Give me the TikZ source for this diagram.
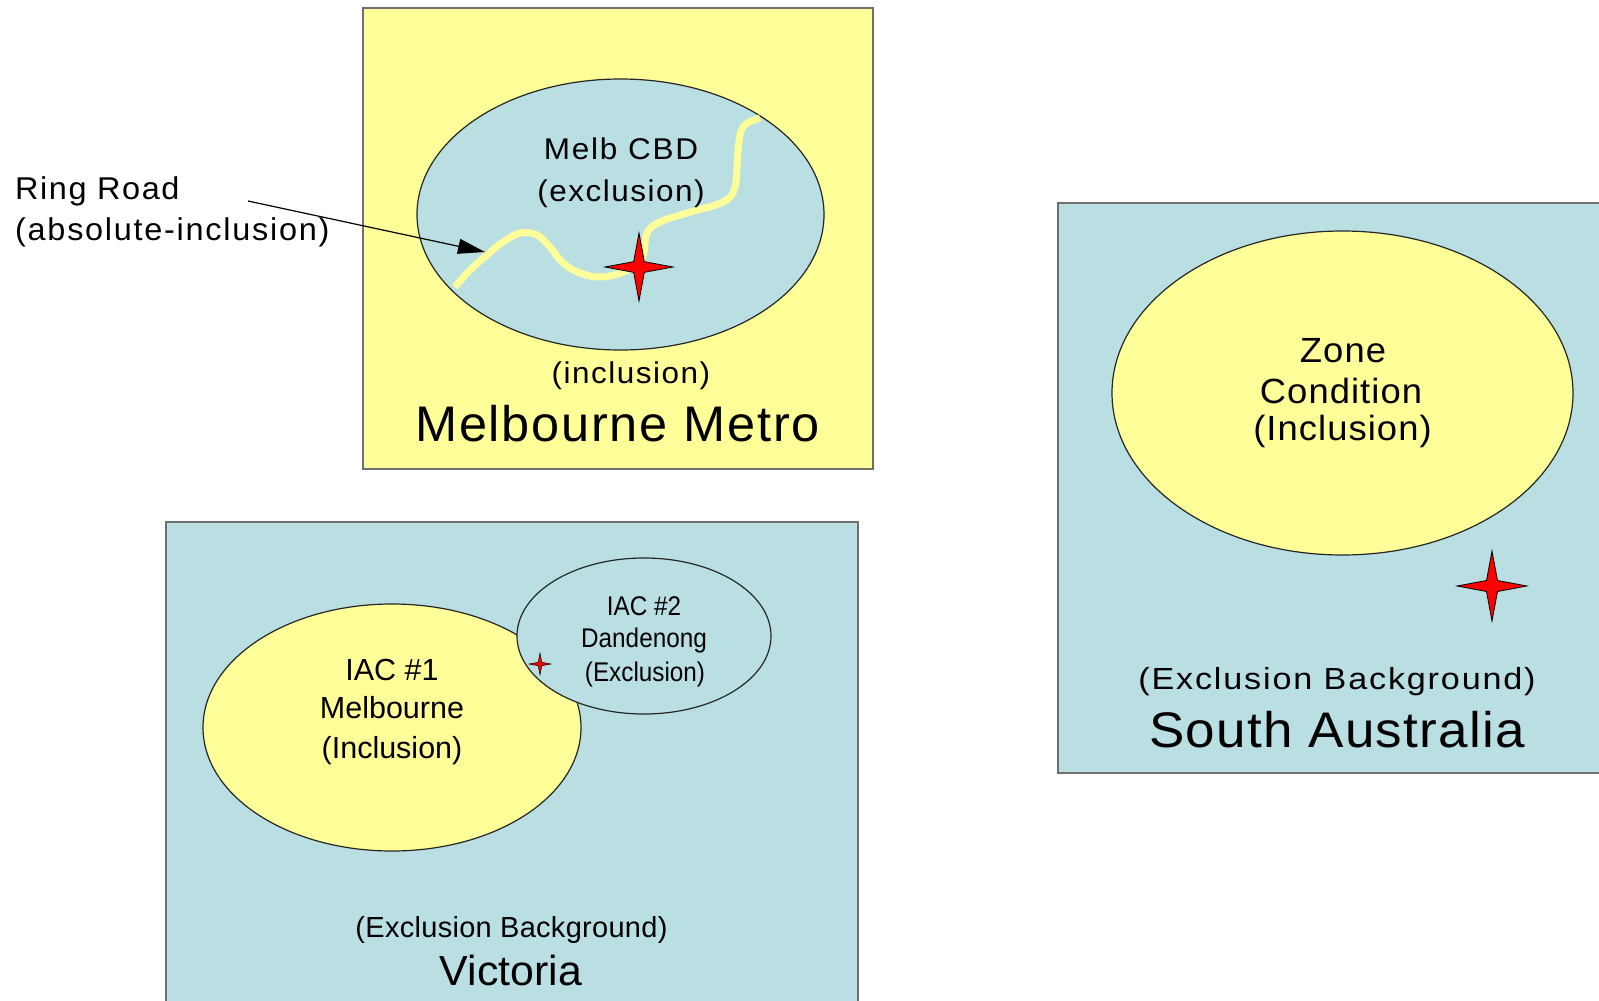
\documentclass[tikz,border=0pt]{standalone}
\usepackage{fontspec}
\setmainfont{Liberation Sans}
\usetikzlibrary{shapes.geometric,arrows.meta,positioning}

\definecolor{zoneyellow}{HTML}{FFFF99}
\definecolor{zoneblue}{HTML}{B9DFE2}
\definecolor{boxgray}{HTML}{707070}

% size, letter spacing, stretch
\newcommand{\tagfont}[3]{\fontsize{#1}{#1}\selectfont\addfontfeatures{LetterSpace=#2,FakeStretch=#3}}

\tikzset{
  region/.style={rectangle, draw=boxgray, line width=1.8pt, inner sep=0pt},
  zone/.style={ellipse, draw=black!85, line width=1.2pt, inner sep=0pt},
  target/.style={star, star points=4, star point ratio=4.5, draw=black, line width=0.8pt, fill=red, inner sep=0pt},
  road/.style={draw=zoneyellow, line width=7pt},
  pointer/.style={draw=black, line width=1.2pt, -{Triangle[length=27pt,width=15pt]}},
  tag/.style={inner sep=0pt, anchor=base, text=black},
}

\begin{document}
\begin{tikzpicture}[x=1pt,y=-1pt]
  \useasboundingbox (0,0) rectangle (1599,1001);
  \clip (0,0) rectangle (1599,1001);

  % regions
  \node[region, fill=zoneyellow, minimum width=510pt, minimum height=461pt] (metro) at (618,238.5) {};
  \node[region, fill=zoneblue, minimum width=692pt, minimum height=520pt] (vic) at (512,782) {};
  \node[region, fill=zoneblue, minimum width=580pt, minimum height=570pt] (sa) at (1348,488) {};

  %Melbourne Metro
  \node[zone, fill=zoneblue, minimum width=407pt, minimum height=271pt] (cbd) at (620.5,214.5) {};
  \draw[road] plot[smooth, tension=0.6] coordinates {(455,287) (470,270) (487,255) (503,242) (520,233) (537,235) (550,247) (563,263) (580,273) (600,277) (623,272) (642,258) (647,233) (660,222) (687,213) (723,202) (735,187) (738,150) (743,127) (760,118)};
  \node[target, minimum size=68pt] (cbdstar) at (639,267) {};

  \node[tag, font=\tagfont{30}{6}{1.05}] (cbdname) at (621,159) {Melb CBD};
  \node[tag, font=\tagfont{30}{5}{1.05}] (cbdtype) at (621,201) {(exclusion)};
  \node[tag, font=\tagfont{30}{5}{1.05}] (metrotype) at (631,383) {(inclusion)};
  \node[tag, font=\tagfont{50}{3.5}{1.01}] (metroname) at (617.5,441) {Melbourne Metro};

  %ring road label
  \node[tag, anchor=base west, font=\tagfont{31.5}{5}{1.03}] (ringname) at (15,199) {Ring Road};
  \node[tag, anchor=base west, font=\tagfont{31.5}{5.5}{1.03}] (ringtype) at (15,240) {(absolute-inclusion)};
  \coordinate (ringtail) at (248,201);
  \coordinate (roadmark) at (485,252);
  \draw[pointer] (ringtail) -- (roadmark);

  %Victoria
  \node[zone, fill=zoneyellow, minimum width=378pt, minimum height=247pt] (iacmelb) at (392,727.5) {};
  \node[zone, fill=zoneblue, minimum width=254pt, minimum height=156pt] (iacdand) at (644,636) {};
  \node[target, minimum size=22pt, line width=0.5pt] (vicstar) at (540,664) {};

  \node[tag, font=\tagfont{30.5}{0}{1}] (iacmelbid) at (392,680) {IAC \#1};
  \node[tag, font=\tagfont{30.5}{0}{1}] (iacmelbname) at (392,718) {Melbourne};
  \node[tag, font=\tagfont{30.5}{0}{1}] (iacmelbtype) at (392,758) {(Inclusion)};
  \node[tag, font=\tagfont{27}{0}{0.9}] (iacdandid) at (644,615) {IAC \#2};
  \node[tag, font=\tagfont{27}{0}{0.9}] (iacdandname) at (644,647) {Dandenong};
  \node[tag, font=\tagfont{27}{0}{0.9}] (iacdandtype) at (645,681) {(Exclusion)};

  \node[tag, font=\tagfont{29}{1}{1}] (victype) at (511.5,937) {(Exclusion Background)};
  \node[tag, font=\tagfont{42}{0}{1.02}] (vicname) at (511,985) {Victoria};

  %South Australia
  \node[zone, fill=zoneyellow, minimum width=461pt, minimum height=324pt] (zonecond) at (1342.5,393) {};
  \node[target, minimum size=70pt] (sastar) at (1492,586) {};

  \node[tag, font=\tagfont{35}{3}{1.04}] (zonename) at (1343,362) {Zone};
  \node[tag, font=\tagfont{35}{3}{1.04}] (zonecondname) at (1341,403) {Condition};
  \node[tag, font=\tagfont{35}{3}{1.04}] (zonetype) at (1342.5,440) {(Inclusion)};
  \node[tag, font=\tagfont{30.5}{6}{1.12}] (satype) at (1337,689) {(Exclusion Background)};
  \node[tag, font=\tagfont{50}{2.5}{1.06}] (saname) at (1337,747) {South Australia};
\end{tikzpicture}
\end{document}
